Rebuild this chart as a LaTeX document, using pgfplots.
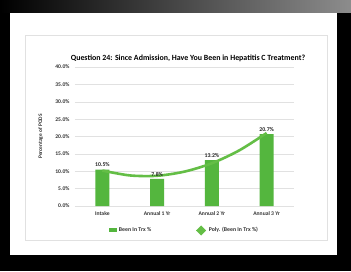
\documentclass[border=0pt]{standalone}
\usepackage{pgfplots}
\pgfplotsset{compat=1.18}
\usepackage{fontspec}
\setmainfont{Carlito}
\definecolor{bargreen}{RGB}{84,182,62}
\definecolor{linegreen}{RGB}{100,190,70}
\definecolor{gridgray}{RGB}{225,225,225}
\begin{document}
\begin{tikzpicture}[x=1pt,y=1pt]
\useasboundingbox (0,0) rectangle (351,271);
\fill[black] (0,0) rectangle (351,271);
\shade[left color=black, right color=black!45] (0,258) rectangle (351,271);
\fill[white] (10,16) rectangle (337,258);
\draw[gridgray, line width=0.8pt] (25,31) rectangle (327,236);
\node[font=\fontsize{7.9}{9}\selectfont\bfseries, anchor=center] at (188,213) {Question 24: Since Admission, Have You Been in Hepatitis C Treatment?};
\begin{axis}[
  at={(75pt,65pt)}, anchor=south west,
  scale only axis, width=219pt, height=139pt,
  xmin=-0.5, xmax=3.5, ymin=0, ymax=40,
  xtick={0,1,2,3},
  xticklabels={Intake, Annual 1 Yr, Annual 2 Yr, Annual 3 Yr},
  ytick={0,5,...,40},
  yticklabel={\pgfmathprintnumber[fixed,fixed zerofill,precision=1]{\tick}\%},
  /pgf/number format/assume math mode=true,
  ticklabel style={font=\fontsize{5.6}{6.5}\selectfont\bfseries, text=black!80},
  ymajorgrids, grid style={gridgray, line width=0.5pt},
  axis line style={draw=none},
  axis x line*=bottom,
  x axis line style={gridgray},
  major tick length=0pt,
  ylabel={Percentage of PODS},
  ylabel style={font=\fontsize{5.4}{6.5}\selectfont\bfseries, text=black!80, at={(axis description cs:-0.13,0.5)}},
  xticklabel style={yshift=-2pt},
  yticklabel style={xshift=-2pt},
  legend style={at={(0.5,-0.125)}, anchor=north, draw=none, fill=none,
     legend columns=2, font=\fontsize{5.8}{6.5}\selectfont\bfseries, text=black!80,
     /tikz/every even column/.append style={column sep=42pt}},
  legend cell align=left,
]
\addplot[ybar, bar width=14pt, fill=bargreen, draw=none,
  nodes near coords={\pgfmathprintnumber[fixed,precision=1,fixed zerofill]{\pgfplotspointmeta}\%},
  nodes near coords style={font=\fontsize{5.8}{6.5}\selectfont\bfseries, text=black!85, yshift=-1pt},
  legend image code/.code={\fill[bargreen] (0pt,-2pt) rectangle (8pt,2pt);}]
  coordinates {(0,10.5) (1,7.8) (2,13.2) (3,20.7)};
\addlegendentry{Been In Trx \%}
\addplot[linegreen, line width=2.6pt, smooth, mark=none,
  legend image code/.code={\draw[linegreen, line width=1.6pt] (0pt,0pt) -- (10pt,0pt);
     \fill[linegreen] (5pt,3.2pt) -- (8.2pt,0pt) -- (5pt,-3.2pt) -- (1.8pt,0pt) -- cycle;}]
  coordinates {(0,10.2) (0.5,8.8) (1,8.7) (1.5,9.9) (2,12.3) (2.5,16.0) (3,21.0)};
\addlegendentry{Poly. (Been In Trx \%)}
\end{axis}
\end{tikzpicture}
\end{document}
